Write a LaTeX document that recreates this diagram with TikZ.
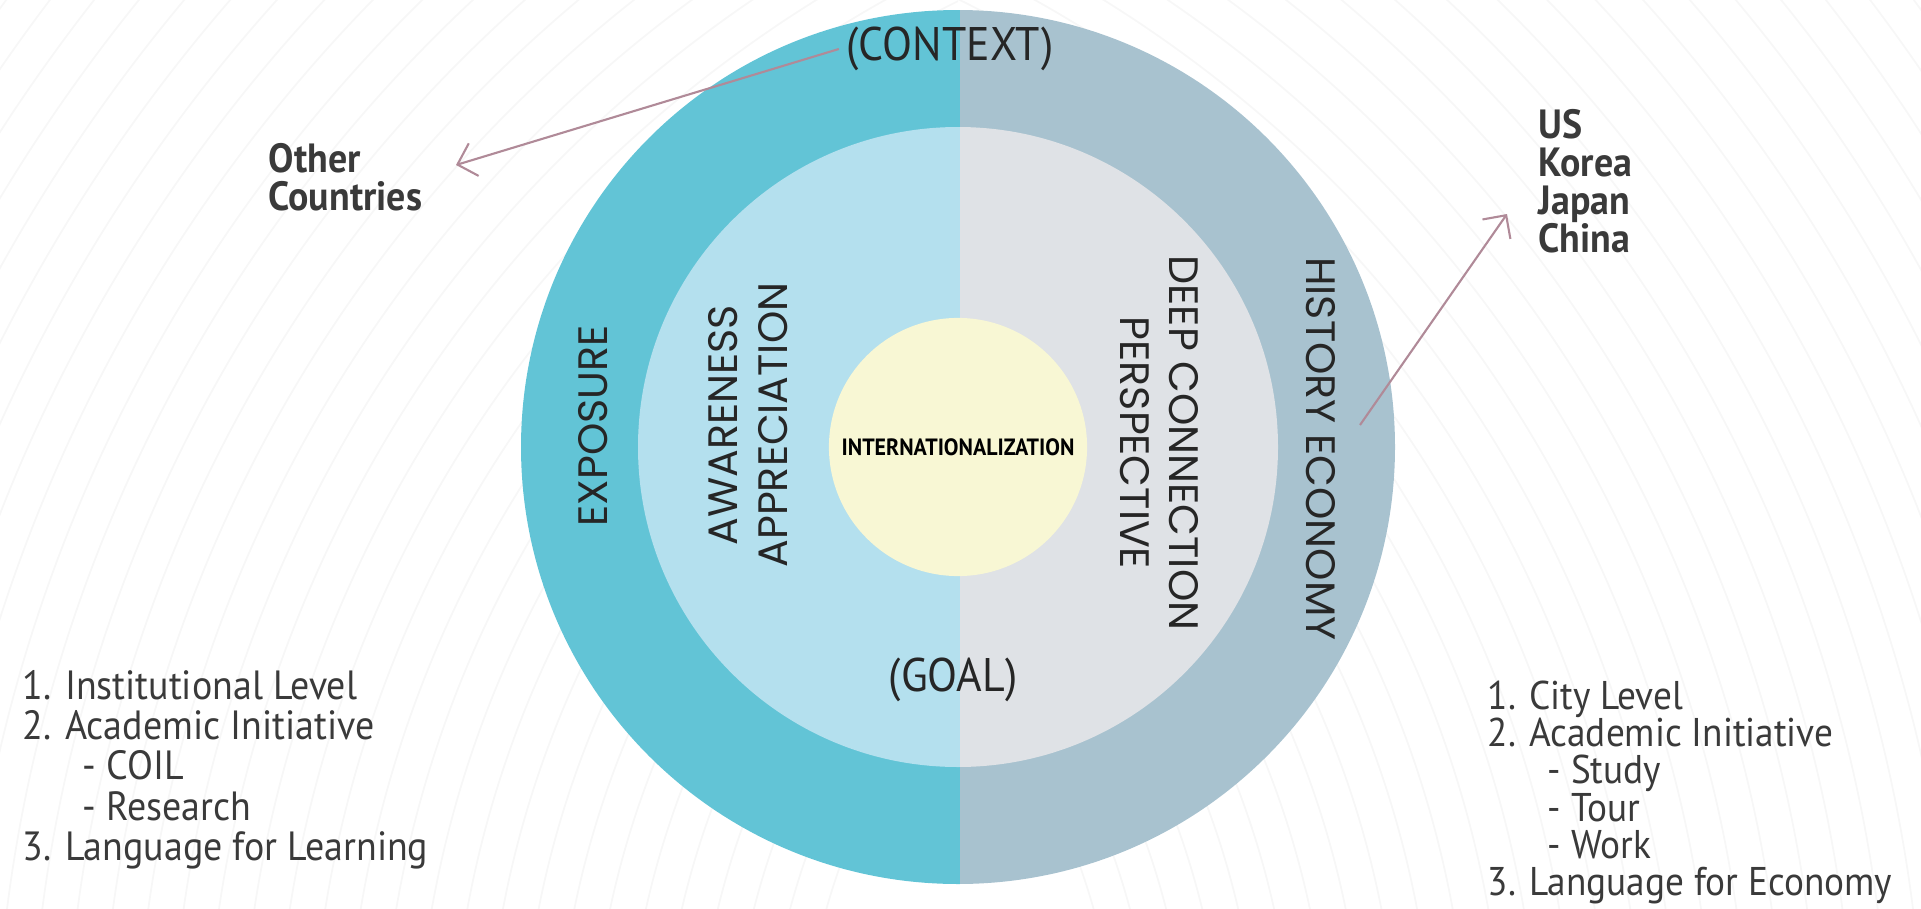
\documentclass[tikz,border=0pt]{standalone}
\usepackage{fontspec}
\setmainfont{PT Sans}
\newfontfamily\ringfont{Poppins}
\newfontfamily\narrowfont[FakeStretch=0.93]{PT Sans}
\usepackage{tikz}
\usetikzlibrary{arrows.meta}
\usetikzlibrary{positioning}
\usepackage{xcolor}

\definecolor{exposeteal}{RGB}{98,196,214}
\definecolor{historygray}{RGB}{168,194,207}
\definecolor{awareblue}{RGB}{180,224,238}
\definecolor{deepgray}{RGB}{223,226,230}
\definecolor{coreyellow}{RGB}{248,247,212}
\definecolor{arrowmauve}{RGB}{176,138,152}
\definecolor{inkgray}{RGB}{58,58,58}

\tikzset{
  ringtext/.style={font=\ringfont\fontsize{11.7}{14}\selectfont, text=black!85, align=center, inner sep=0},
  tagtext/.style={font=\narrowfont\fontsize{13.4}{15}\selectfont, text=black!85, inner sep=0},
  listtext/.style={font=\narrowfont\fontsize{11.6}{11.4}\selectfont, text=inkgray, align=left, anchor=north west, inner sep=0},
  placetext/.style={font=\narrowfont\bfseries\fontsize{11.6}{10.8}\selectfont, text=inkgray, align=left, anchor=north west, inner sep=0},
  pointer/.style={draw=arrowmauve, line width=0.6pt, -{Straight Barb[length=1.7mm,width=3.4mm]}},
}

\begin{document}
\begin{tikzpicture}[x=0.01cm,y=-0.01cm]
\useasboundingbox (0,0) rectangle (1921,909);

% faint rings behind
\begin{scope}
\clip (0,0) rectangle (958,909);
\foreach \r in {700,735,...,1900} \draw[black!3, line width=0.5pt] (1500,1100) circle (\r);
\end{scope}
\begin{scope}
\clip (958,0) rectangle (1921,909);
\foreach \r in {700,735,...,1900} \draw[black!3, line width=0.5pt] (420,1100) circle (\r);
\end{scope}

\coordinate (hub) at (958,447);
\begin{scope}
\clip (0,0) rectangle (960,909);
\fill[exposeteal] (hub) circle (437);
\fill[awareblue] (hub) circle (320);
\end{scope}
\begin{scope}
\clip (960,0) rectangle (1921,909);
\fill[historygray] (hub) circle (437);
\fill[deepgray] (hub) circle (320);
\end{scope}

\node[circle, fill=coreyellow, minimum size=2.58cm, inner sep=0, font=\narrowfont\bfseries\fontsize{6.7}{7}\selectfont] (core) at (hub) {INTERNATIONALIZATION};

\node[tagtext] (context) at (950,49) {(CONTEXT)};
\node[tagtext] (goal) at (953,680) {(GOAL)};

\node[ringtext, rotate=90] (exposure) at (593,426) {EXPOSURE};
\node[ringtext, rotate=90] (aware) at (748,425) {AWARENESS\\APPRECIATION};
\node[ringtext, rotate=-90] (deep) at (1159,443) {DEEP CONNECTION\\PERSPECTIVE};
\node[ringtext, rotate=-90] (history) at (1321,449) {HISTORY ECONOMY};

\node[placetext] (other) at (268,143) {Other\\Countries};
\node[placetext] (asia) at (1538,109) {US\\Korea\\Japan\\China};

\node[listtext] (leftlist) at (22,670) {1. Institutional Level\\2. Academic Initiative\\\hspace*{6mm}- COIL\\\hspace*{6mm}- Research\\3. Language for Learning};
\node[listtext, font=\narrowfont\fontsize{11.4}{10.6}\selectfont] (rightlist) at (1487,680) {1. City Level\\2. Academic Initiative\\\hspace*{6mm}- Study\\\hspace*{6mm}- Tour\\\hspace*{6mm}- Work\\3. Language for Economy};

\coordinate (othertip) at (456,165);
\coordinate (historyfoot) at (1360,425);
\coordinate (asiatip) at (1507,214);
\draw[pointer] ([xshift=-2pt]context.west) -- (othertip);
\draw[pointer] (historyfoot) -- (asiatip);
\end{tikzpicture}
\end{document}
